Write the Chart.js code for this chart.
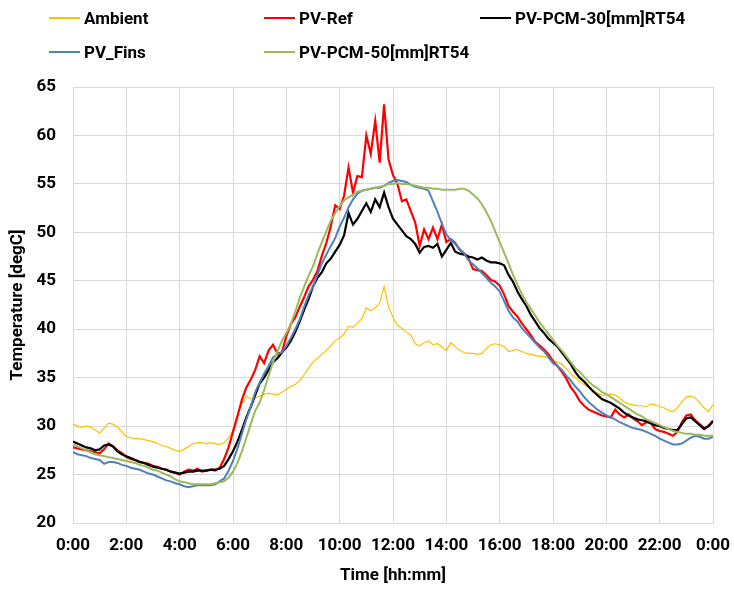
<!DOCTYPE html>
<html>
<head>
<meta charset="utf-8">
<script src="https://cdn.jsdelivr.net/npm/chart.js@4.4.0/dist/chart.umd.min.js"></script>
<style>
  body { margin: 0; background: #fff; }
  #wrap { position: relative; width: 734px; height: 592px; }
  #legenda { position: absolute; left: 0; top: 0; width: 734px; height: 80px;
             font: bold 17px 'Roboto', sans-serif; color: #000; }
  .voce { position: absolute; display: flex; align-items: center; white-space: nowrap; }
  .voce .linea { display: inline-block; width: 31px; height: 2px; margin-right: 4px; }
</style>
</head>
<body>
<div id="wrap">
  <canvas id="grafico"></canvas>
  <div id="legenda"></div>
</div>
<script>
// campioni ogni 10 minuti, da 0:00 a 24:00
const passoMinuti = 10;
const ore = Array.from({ length: 145 }, (_, i) => i * passoMinuti / 60);
const etichetteOre = ['0:00', '2:00', '4:00', '6:00', '8:00', '10:00', '12:00',
                      '14:00', '16:00', '18:00', '20:00', '22:00', '0:00'];

const ambient = [
  30.2, 30.0, 29.9, 30.0, 29.9, 29.6,
  29.3, 29.8, 30.3, 30.2, 29.9, 29.4,
  28.9, 28.8, 28.7, 28.7, 28.6, 28.5,
  28.4, 28.2, 28.0, 27.9, 27.7, 27.5,
  27.4, 27.6, 27.9, 28.2, 28.3, 28.3,
  28.2, 28.3, 28.2, 28.1, 28.3, 28.8,
  29.6, 31.2, 32.3, 33.1, 32.8, 32.9,
  33.1, 33.3, 33.4, 33.3, 33.2, 33.5,
  33.8, 34.1, 34.3, 34.7, 35.3, 36.0,
  36.6, 37.0, 37.4, 37.8, 38.3, 38.8,
  39.1, 39.5, 40.3, 40.2, 40.6, 41.1,
  42.2, 41.9, 42.2, 42.7, 44.4, 42.3,
  41.2, 40.4, 40.1, 39.7, 39.4, 38.5,
  38.3, 38.6, 38.8, 38.4, 38.5, 38.2,
  37.8, 38.6, 38.2, 37.8, 37.6, 37.5,
  37.5, 37.4, 37.5, 38.0, 38.4, 38.5,
  38.4, 38.2, 37.7, 37.8, 37.9, 37.7,
  37.5, 37.4, 37.3, 37.2, 37.2, 37.0,
  36.8, 36.6, 36.4, 35.9, 35.4, 35.0,
  34.6, 34.3, 34.0, 33.7, 33.4, 33.2,
  33.2, 33.3, 33.2, 32.9, 32.5, 32.3,
  32.2, 32.1, 32.1, 32.0, 32.3, 32.2,
  32.0, 31.9, 31.6, 31.5, 31.9, 32.5,
  33.0, 33.1, 32.9, 32.4, 31.9, 31.5,
  32.2
];

const pvRef = [
  27.8, 27.7, 27.6, 27.5, 27.4, 27.3,
  27.2, 27.6, 28.2, 27.9, 27.5, 27.2,
  26.8, 26.6, 26.5, 26.3, 26.2, 26.1,
  25.9, 25.8, 25.6, 25.5, 25.3, 25.2,
  25.0, 25.3, 25.5, 25.4, 25.6, 25.3,
  25.4, 25.5, 25.4, 25.7, 26.6, 27.8,
  29.4, 31.0, 32.7, 34.0, 34.8, 35.8,
  37.2, 36.5, 37.8, 38.4, 37.5, 37.6,
  39.3, 40.5, 41.2, 42.3, 43.3, 44.4,
  45.1, 46.0, 47.6, 48.9, 50.6, 52.8,
  52.4, 53.8, 56.7, 54.1, 55.8, 55.7,
  60.0, 58.1, 61.5, 57.2, 63.2, 57.5,
  55.9, 55.0, 53.2, 53.4, 52.2, 51.0,
  48.6, 50.3, 49.3, 50.5, 49.3, 50.8,
  49.0, 49.3, 48.9, 48.2, 47.8, 47.3,
  46.2, 46.1, 46.0, 45.6, 45.1, 44.9,
  44.5, 43.6, 42.4, 41.8, 41.3, 40.6,
  40.0, 39.4, 38.7, 38.3, 37.9, 37.4,
  36.7, 36.2, 35.6, 34.9, 34.0, 33.4,
  32.6, 32.1, 31.7, 31.5, 31.3, 31.1,
  31.0, 30.9, 31.7, 31.2, 30.9, 31.2,
  30.8, 30.5, 30.1, 30.4, 30.3, 29.7,
  29.5, 29.4, 29.2, 29.0, 29.4, 30.4,
  31.1, 31.2, 30.6, 30.2, 29.8, 30.0,
  30.6
];

const pvPcm30 = [
  28.4, 28.2, 28.0, 27.8, 27.7, 27.5,
  27.6, 28.0, 28.1, 27.9, 27.4, 27.1,
  26.9, 26.7, 26.5, 26.3, 26.2, 26.0,
  25.8, 25.7, 25.6, 25.5, 25.3, 25.2,
  25.1, 25.2, 25.3, 25.3, 25.4, 25.4,
  25.4, 25.5, 25.5, 25.6, 25.9, 26.6,
  27.4, 28.4, 29.6, 30.9, 32.0, 33.2,
  34.4, 35.0, 35.8, 36.6, 37.0, 37.6,
  38.1, 38.8, 39.7, 40.8, 42.0, 43.1,
  44.4, 45.3, 45.9, 46.8, 47.3, 48.0,
  48.7, 49.7, 52.0, 50.8, 51.4, 52.2,
  53.0, 52.1, 53.4, 52.6, 54.1, 52.6,
  51.4, 50.8, 50.2, 49.6, 49.3, 48.8,
  47.9, 48.5, 48.6, 48.4, 48.8, 47.5,
  48.2, 48.9, 48.0, 47.8, 47.7, 47.5,
  47.4, 47.2, 47.4, 47.1, 46.9, 46.9,
  46.8, 46.6, 45.6, 44.9, 43.9, 43.1,
  42.4, 41.5, 40.8, 40.1, 39.6, 39.0,
  38.6, 38.2, 37.6, 37.0, 36.4, 35.6,
  35.0, 34.6, 34.1, 33.6, 33.2, 32.8,
  32.6, 32.4, 32.1, 31.8, 31.4, 31.1,
  30.9, 30.7, 30.6, 30.5, 30.3, 30.1,
  30.0, 29.8, 29.7, 29.6, 29.6, 30.2,
  30.8, 30.9, 30.5, 30.1, 29.7, 30.0,
  30.5
];

const pvFins = [
  27.3, 27.1, 27.0, 26.9, 26.7, 26.6,
  26.5, 26.1, 26.3, 26.3, 26.2, 26.0,
  25.9, 25.7, 25.6, 25.5, 25.3, 25.1,
  25.0, 24.8, 24.6, 24.4, 24.3, 24.1,
  24.0, 23.8, 23.7, 23.8, 23.9, 23.9,
  23.9, 23.9, 24.0, 24.3, 24.6, 25.4,
  26.4, 27.7, 29.2, 30.7, 32.0, 33.5,
  34.5, 35.4, 36.2, 37.1, 37.4, 37.6,
  38.3, 39.1, 40.0, 41.0, 42.3, 43.5,
  44.4, 45.6, 46.8, 47.7, 48.6, 49.4,
  50.6, 51.5, 52.6, 53.4, 54.0, 54.3,
  54.4, 54.5, 54.6, 54.6, 54.8, 55.1,
  55.3, 55.4, 55.3, 55.2, 54.9, 54.7,
  54.6, 54.5, 54.3, 53.2, 52.1, 50.9,
  49.8, 49.2, 48.8, 48.3, 47.8, 47.1,
  46.7, 46.3, 45.8, 45.3, 44.8, 44.4,
  43.9, 42.9, 41.9, 41.2, 40.8, 40.1,
  39.6, 39.1, 38.6, 38.1, 37.7, 37.1,
  36.5, 36.2, 35.8, 35.2, 34.7, 34.1,
  33.6, 33.0, 32.5, 32.1, 31.7, 31.4,
  31.1, 30.9, 30.7, 30.4, 30.2, 30.0,
  29.8, 29.7, 29.6, 29.4, 29.2, 29.0,
  28.7, 28.5, 28.3, 28.1, 28.1, 28.2,
  28.5, 28.8, 29.0, 28.9, 28.7, 28.7,
  28.9
];

const pvPcm50 = [
  28.1, 27.9, 27.7, 27.5, 27.3, 27.1,
  27.0, 26.9, 26.8, 26.7, 26.6, 26.5,
  26.4, 26.3, 26.2, 26.0, 25.9, 25.7,
  25.5, 25.4, 25.2, 25.0, 24.8, 24.5,
  24.3, 24.2, 24.1, 24.0, 24.0, 24.0,
  24.0, 24.0, 24.1, 24.2, 24.3, 24.7,
  25.3, 26.2, 27.4, 28.8, 30.2, 31.6,
  32.4, 33.7, 35.2, 36.6, 37.7, 38.8,
  39.6, 40.5, 41.8, 43.2, 44.4, 45.5,
  46.5, 47.8, 49.0, 50.1, 51.2, 52.0,
  52.7, 53.3, 53.6, 53.9, 54.2, 54.3,
  54.4, 54.5, 54.6, 54.7, 54.8, 55.0,
  55.0, 55.1, 55.0, 55.0, 54.9, 54.8,
  54.7, 54.6, 54.6, 54.5, 54.5, 54.4,
  54.4, 54.4, 54.4, 54.5, 54.5, 54.3,
  53.9, 53.5, 52.9, 52.1, 51.2, 50.1,
  49.0, 47.9, 46.8, 45.6, 44.6, 43.6,
  42.8, 42.1, 41.4, 40.7, 40.1, 39.5,
  38.9, 38.3, 37.8, 37.2, 36.6, 36.0,
  35.6, 35.1, 34.6, 34.2, 33.9, 33.5,
  33.3, 33.0, 32.7, 32.4, 32.1, 31.8,
  31.5, 31.2, 31.0, 30.7, 30.5, 30.3,
  30.1, 29.9, 29.7, 29.5, 29.4, 29.3,
  29.2, 29.2, 29.1, 29.1, 29.0, 29.0,
  29.0
];

const font = "'Roboto', sans-serif";

function serie(nome, valori, colore, spessore, ordine) {
    return {
        label: nome,
        data: valori.map((v, i) => ({ x: ore[i], y: v })),
        borderColor: colore,
        backgroundColor: colore,
        borderWidth: spessore,
        pointRadius: 0,
        tension: 0,
        fill: false,
        order: ordine
    };
}

const ctx = document.getElementById('grafico').getContext('2d');
const grafico = new Chart(ctx, {
    type: 'line',
    data: {
        datasets: [
            serie('Ambient', ambient, '#FFC000', 1.2, 5),
            serie('PV-Ref', pvRef, '#FF0000', 2.2, 4),
            serie('PV-PCM-30[mm]RT54', pvPcm30, '#000000', 2.2, 3),
            serie('PV_Fins', pvFins, '#4F81BD', 2, 2),
            serie('PV-PCM-50[mm]RT54', pvPcm50, '#9BBB59', 2, 1)
        ]
    },
    options: {
        responsive: true,
        maintainAspectRatio: false,
        animation: false,
        layout: { padding: { top: 87, right: 21, left: 0, bottom: 0 } },
        plugins: { legend: { display: false }, tooltip: { enabled: false } },
        scales: {
            x: {
                type: 'linear',
                min: 0,
                max: 24,
                afterFit: s => { s.height = 69; s.paddingLeft = 0; s.paddingRight = 0; },
                grid: { color: '#D9D9D9', drawTicks: false },
                border: { color: '#D9D9D9' },
                ticks: {
                    stepSize: 2,
                    padding: 13,
                    color: '#000',
                    font: { family: font, size: 17, weight: 'bold' },
                    maxRotation: 0,
                    autoSkip: false,
                    callback: (v, i) => etichetteOre[i]
                },
                title: {
                    display: true,
                    text: 'Time [hh:mm]',
                    color: '#000',
                    font: { family: font, size: 17, weight: 'bold' },
                    padding: { top: 0, bottom: 6 }
                }
            },
            y: {
                min: 20,
                max: 65,
                afterFit: s => { s.width = 73; },
                grid: { color: '#D9D9D9', drawTicks: false },
                border: { color: '#D9D9D9' },
                ticks: {
                    stepSize: 5,
                    padding: 17,
                    color: '#000',
                    font: { family: font, size: 17, weight: 'bold' }
                },
                title: {
                    display: true,
                    text: 'Temperature [degC]',
                    color: '#000',
                    font: { family: font, size: 17, weight: 'bold' },
                    padding: { top: 8, bottom: 0 }
                }
            }
        }
    }
});

// legenda su due righe, tre colonne come nel foglio originale
const posizioniLegenda = [[49, 18], [264, 18], [480, 18], [49, 52], [264, 52]];
const contenitore = document.getElementById('legenda');
grafico.data.datasets.forEach((ds, i) => {
    const voce = document.createElement('div');
    voce.className = 'voce';
    voce.style.left = posizioniLegenda[i][0] + 'px';
    voce.style.top = (posizioniLegenda[i][1] - 12) + 'px';
    voce.style.height = '24px';
    voce.innerHTML = '<span class="linea" style="background:' + ds.borderColor + '"></span><span>' + ds.label + '</span>';
    contenitore.appendChild(voce);
});
</script>
</body>
</html>
